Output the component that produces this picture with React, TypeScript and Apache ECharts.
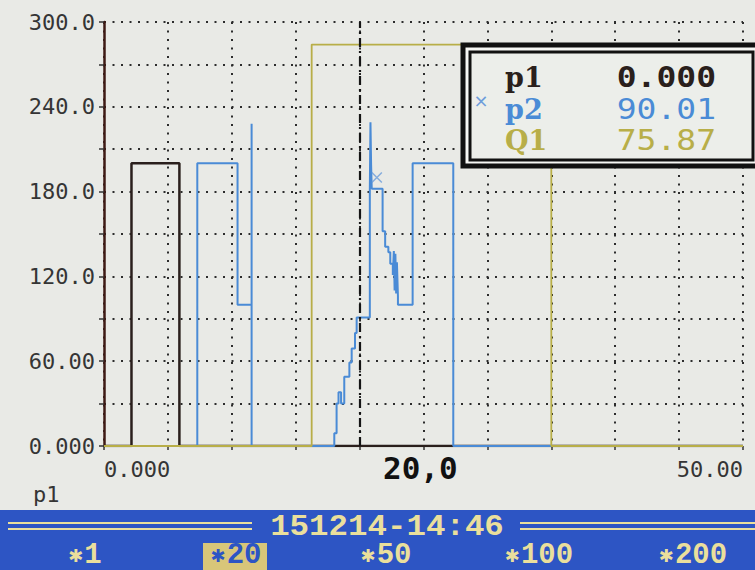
import React, { useEffect, useRef } from "react";
import * as echarts from "echarts";

// ---- data ----
const seriesNames = ["p1", "p2", "Q1"];
const cursorValues = ["0.000", "90.01", "75.87"];
const cursorX = 20;
const cursorLabel = "20,0";
const yTickValues = [0, 60, 120, 180, 240, 300];
const yTickLabels = ["0.000", "60.00", "120.0", "180.0", "240.0", "300.0"];
const xTickValues = [0, 50];
const xTickLabels = ["0.000", "50.00"];
const xAxisName = "p1";

const p1Points: number[][] = [
  [0, 0], [2.15, 0], [2.15, 200], [5.9, 200], [5.9, 0], [50, 0],
];

const p2Points: number[][] = [
  [0, 0], [7.3, 0], [7.3, 200], [10.45, 200], [10.45, 100], [11.55, 100],
  [11.55, 228], [11.55, 0], [18.02, 0], [18.02, 9], [18.2, 9], [18.2, 30],
  [18.35, 30], [18.35, 38], [18.55, 38], [18.55, 30], [18.8, 30], [18.8, 49],
  [19.2, 49], [19.2, 59], [19.38, 59], [19.38, 69], [19.64, 69], [19.64, 80],
  [19.77, 80], [19.77, 91], [20.8, 91], [20.8, 182], [20.85, 182], [20.85, 229],
  [20.9, 229], [20.9, 199], [20.95, 182], [21.8, 182], [21.8, 152], [22.0, 152],
  [22.0, 141], [22.25, 141], [22.25, 137], [22.4, 137], [22.4, 129], [22.6, 129],
  [22.6, 121], [22.68, 138], [22.74, 110], [22.8, 136], [22.86, 108], [22.92, 130],
  [23.0, 106], [23.0, 100], [24.15, 100], [24.15, 200], [27.33, 200], [27.33, 0],
  [50, 0],
];

const q1Points: number[][] = [
  [0, 0], [16.25, 0], [16.25, 284], [35.0, 284], [35.0, 0], [50, 0],
];

const markerPoints: number[][] = [[21.35, 190]];

const timestamp = "151214-14:46";
const zoomMarker = "✱";
const zoomLabels = ["1", "20", "50", "100", "200"];
const activeZoom = 1;

// ---- styles ----
const colors = ["#2a1f1c", "#4a8bd6", "#b8ae48"];
const axisText = "#353535";
const barBlue = "#2d55c4";
const barCream = "#eadf9c";
const zoomCenters = [85, 236, 386, 539, 693];
const gridDots = { color: "#2c2c2c", width: 2, type: [2, 6.5] };

export default function App() {
  const ref = useRef<HTMLDivElement>(null);

  useEffect(() => {
    if (!ref.current) return;
    const chart = echarts.init(ref.current, null, { renderer: "svg" });

    const rowY = [77.5, 109, 140];
    const legendRows = seriesNames
      .map((n, i) => [
        {
          type: "text",
          z: 120,
          x: 505,
          y: rowY[i],
          style: {
            text: n,
            fill: colors[i],
            font: "bold 27px 'DejaVu Serif'",
            textAlign: "left",
            textVerticalAlign: "middle",
          },
        },
        {
          type: "text",
          z: 120,
          x: 716,
          y: rowY[i],
          scaleY: 0.85,
          style: {
            text: cursorValues[i],
            fill: colors[i],
            font: (i === 0 ? "bold " : "") + "33px 'DejaVu Sans Mono'",
            textAlign: "right",
            textVerticalAlign: "middle",
          },
        },
      ])
      .flat();

    const zoomEls: any[] = [];
    zoomLabels.forEach((t, i) => {
      const active = i === activeZoom;
      if (active) {
        zoomEls.push({
          type: "rect",
          z: 110,
          shape: { x: zoomCenters[i] - 33, y: 543, width: 64, height: 27 },
          style: { fill: "#d8c679" },
        });
      }
      zoomEls.push({
        type: "text",
        z: 120,
        x: zoomCenters[i],
        y: 555,
        style: {
          text: `{s|${zoomMarker}}{n|${t}}`,
          textAlign: "center",
          textVerticalAlign: "middle",
          rich: {
            s: {
              fontFamily: "DejaVu Sans",
              fontSize: 18,
              fill: active ? barBlue : barCream,
              padding: [0, 1, 0, 0],
            },
            n: {
              fontFamily: "Liberation Mono",
              fontWeight: "bold",
              fontSize: 29,
              fill: active ? barBlue : barCream,
            },
          },
        },
      });
    });

    const option: any = {
      animation: false,
      backgroundColor: "#e9eae6",
      grid: { left: 104, right: 12, top: 22, bottom: 124, containLabel: false },
      xAxis: {
        type: "value",
        min: 0,
        max: 50,
        interval: 5,
        axisLine: { show: false },
        axisTick: { show: true, length: 4, lineStyle: { color: "#333", width: 1.5 } },
        axisLabel: {
          show: true,
          margin: 12,
          color: axisText,
          fontFamily: "DejaVu Sans Mono",
          fontSize: 22,
          alignMinLabel: "left",
          alignMaxLabel: "right",
          formatter: (v: number) => {
            const k = xTickValues.indexOf(v);
            return k >= 0 ? xTickLabels[k] : "";
          },
        },
        splitLine: { show: true, lineStyle: gridDots },
      },
      yAxis: {
        type: "value",
        min: 0,
        max: 300,
        interval: 30,
        axisLine: { show: true, lineStyle: { color: "#3e1a14", width: 2.5 } },
        axisTick: { show: true, length: 5, lineStyle: { color: "#333", width: 1.5 } },
        axisLabel: {
          margin: 9,
          color: axisText,
          fontFamily: "DejaVu Sans Mono",
          fontSize: 22,
          formatter: (v: number) => {
            const k = yTickValues.indexOf(v);
            return k >= 0 ? yTickLabels[k] : "";
          },
        },
        splitLine: { show: true, lineStyle: gridDots },
      },
      series: [
        {
          name: seriesNames[0],
          type: "line",
          data: p1Points,
          showSymbol: false,
          z: 2,
          lineStyle: { color: colors[0], width: 2.5 },
          markLine: {
            silent: true,
            symbol: "none",
            label: { show: false },
            lineStyle: { color: "#151515", width: 2.2, type: [9, 4, 2, 4] },
            data: [{ xAxis: cursorX }],
          },
        },
        {
          name: seriesNames[1],
          type: "line",
          data: p2Points,
          showSymbol: false,
          z: 3,
          lineStyle: { color: colors[1], width: 2 },
        },
        {
          name: seriesNames[2],
          type: "line",
          data: q1Points,
          showSymbol: false,
          z: 4,
          lineStyle: { color: colors[2], width: 1.8 },
        },
        {
          type: "scatter",
          data: markerPoints,
          z: 5,
          symbol: "path://M0 0 L10 10 M10 0 L0 10",
          symbolSize: 10,
          itemStyle: { color: "none", borderColor: "#6d9ddb", borderWidth: 1.5 },
        },
      ],
      graphic: [
        // cursor readout
        {
          type: "text",
          z: 120,
          x: 383,
          y: 468,
          style: {
            text: cursorLabel,
            fill: "#111",
            font: "bold 31px 'DejaVu Sans Mono'",
            textAlign: "left",
            textVerticalAlign: "middle",
          },
        },
        {
          type: "text",
          z: 120,
          x: 33,
          y: 494,
          style: {
            text: xAxisName,
            fill: axisText,
            font: "22px 'DejaVu Sans Mono'",
            textAlign: "left",
            textVerticalAlign: "middle",
          },
        },
        // legend box
        {
          type: "rect",
          z: 100,
          shape: { x: 463, y: 45, width: 300, height: 121 },
          style: { fill: "#f6f7f4", stroke: "#111", lineWidth: 5 },
        },
        {
          type: "rect",
          z: 101,
          shape: { x: 470, y: 52, width: 283, height: 108 },
          style: { fill: "#eceeea", stroke: "#111", lineWidth: 3 },
        },
        {
          type: "text",
          z: 120,
          x: 481,
          y: 100,
          style: {
            text: "×",
            fill: "#6d9ddb",
            font: "18px 'DejaVu Sans'",
            textAlign: "center",
            textVerticalAlign: "middle",
          },
        },
        ...legendRows,
        // bottom status bar
        {
          type: "rect",
          z: 100,
          shape: { x: 0, y: 510, width: 755, height: 60 },
          style: { fill: barBlue },
        },
        { type: "line", z: 110, shape: { x1: 8, y1: 523, x2: 252, y2: 523 }, style: { stroke: barCream, lineWidth: 2 } },
        { type: "line", z: 110, shape: { x1: 8, y1: 529, x2: 252, y2: 529 }, style: { stroke: barCream, lineWidth: 2 } },
        { type: "line", z: 110, shape: { x1: 520, y1: 523, x2: 755, y2: 523 }, style: { stroke: barCream, lineWidth: 2 } },
        { type: "line", z: 110, shape: { x1: 520, y1: 529, x2: 755, y2: 529 }, style: { stroke: barCream, lineWidth: 2 } },
        {
          type: "text",
          z: 120,
          x: 387,
          y: 527,
          scaleX: 1.12,
          style: {
            text: timestamp,
            fill: barCream,
            font: "bold 29px 'Liberation Mono'",
            textAlign: "center",
            textVerticalAlign: "middle",
          },
        },
        ...zoomEls,
      ],
    };

    chart.setOption(option);
    return () => chart.dispose();
  }, []);

  return (
    <div
      ref={ref}
      style={{ position: "fixed", left: 0, top: 0, width: 755, height: 570 }}
    />
  );
}
